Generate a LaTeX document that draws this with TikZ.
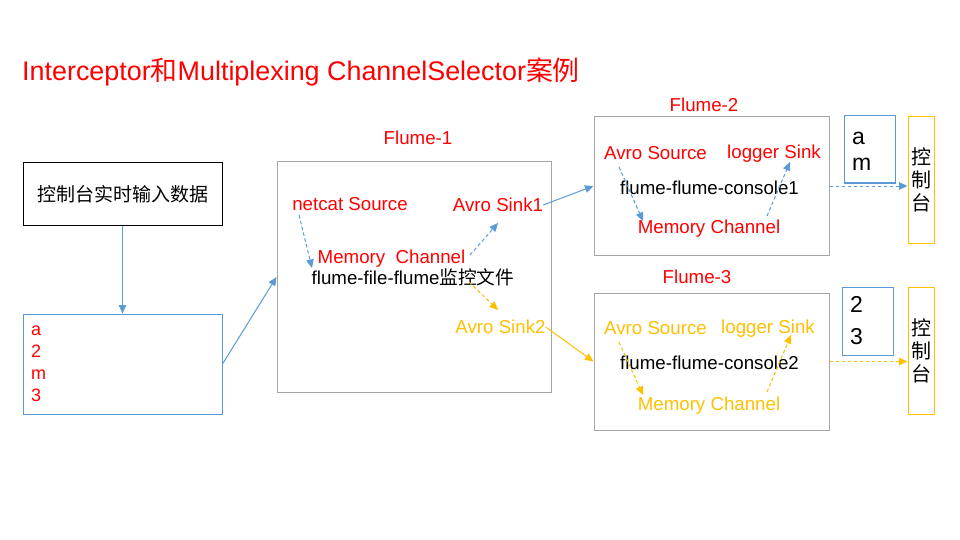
\documentclass[tikz,border=0pt]{standalone}
\usepackage{fontspec}
\setmainfont{Liberation Sans}
\newfontfamily\cjk{Noto Sans CJK SC}
\usetikzlibrary{arrows.meta}
\definecolor{fred}{HTML}{FF0000}
\definecolor{fblue}{HTML}{5B9BD5}
\definecolor{forange}{HTML}{FFC000}
\definecolor{fgray}{HTML}{A6A6A6}
\newcommand{\zh}[1]{{\cjk #1}}
\begin{document}
\begin{tikzpicture}[x=1pt,y=-1pt,
  txt/.style={inner sep=0pt, font=\fontsize{18.7}{22}\selectfont},
  box/.style={draw, line width=1pt, inner sep=0pt},
  tip/.style={-{Triangle[length=8.5pt,width=7.5pt]}},
  solidb/.style={fblue, line width=1pt, tip},
  solido/.style={forange, line width=1pt, tip},
  dashb/.style={fblue, line width=1pt, dash pattern=on 3.5pt off 2.5pt, tip},
  dasho/.style={forange, line width=1pt, dash pattern=on 3.5pt off 2.5pt, tip},
]
\path[use as bounding box, fill=white] (0,0) rectangle (960,540);

% title
\node[txt, anchor=west, text=fred, font=\fontsize{26.9}{32}\selectfont] (title) at (22,72) {Interceptor\zh{和}Multiplexing ChannelSelector\zh{案例}};

% left boxes
\node[box, draw=black, minimum width=199pt, minimum height=62pt] (in) at (122.5,194) {};
\node[txt, font=\fontsize{19}{22}\selectfont] (intext) at (122.5,194) {\zh{控制台实时输入数据}};
\node[box, draw=fblue, minimum width=199pt, minimum height=100pt] (data) at (122.5,364) {};
\node[txt, text=fred, anchor=west, align=left, font=\fontsize{18}{22}\selectfont] (datatext) at (31,364) {a\\2\\m\\3};

% Flume-1
\node[box, draw=fgray, minimum width=274pt, minimum height=230pt] (f1) at (414,277) {};
\node[txt, text=fred] (l1) at (418,138) {Flume-1};
\node[txt, text=fred] (ns) at (350,204) {netcat Source};
\node[txt, text=fred] (mc1) at (391.5,259) {Memory~~Channel};
\node[txt] (ff) at (413,277) {flume-file-flume\zh{监控文件}};
\node[txt, text=fred] (as1) at (498,205) {Avro Sink1};
\node[txt, text=forange] (as2) at (500.5,327) {Avro Sink2};

% Flume-2
\node[box, draw=fgray, minimum width=235pt, minimum height=138pt] (f2) at (711.5,186) {};
\node[txt, text=fred] (l2) at (704,105) {Flume-2};
\node[txt, text=fred] (asrc2) at (655.5,153.5) {Avro Source};
\node[txt, text=fred] (ls2) at (774,153.5) {logger Sink};
\node[txt] (fc1) at (709.5,187.5) {flume-flume-console1};
\node[txt, text=fred] (mc2) at (709,228.5) {Memory Channel};

% Flume-3
\node[box, draw=fgray, minimum width=235pt, minimum height=137pt] (f3) at (711.5,361.5) {};
\node[txt, text=fred] (l3) at (697,277) {Flume-3};
\node[txt, text=forange] (asrc3) at (655.5,328.5) {Avro Source};
\node[txt, text=forange] (ls3) at (768,328.5) {logger Sink};
\node[txt] (fc2) at (709.5,362.5) {flume-flume-console2};
\node[txt, text=forange] (mc3) at (709,405.5) {Memory Channel};

% output boxes
\node[box, draw=fblue, minimum width=51pt, minimum height=67pt] (am) at (869.5,149.5) {};
\node[txt, anchor=west, align=left, font=\fontsize{23}{26}\selectfont] (amtext) at (852,151) {a\\m};
\node[box, draw=fblue, minimum width=51pt, minimum height=68pt] (b23) at (867.5,321) {};
\node[txt, anchor=west, align=left, font=\fontsize{23}{32}\selectfont] (b23text) at (850,320.5) {2\\3};
\node[box, draw=forange, minimum width=26pt, minimum height=126pt] (c1) at (921,180) {};
\node[txt, align=center, font=\fontsize{20}{23}\selectfont] (c1text) at (921,180) {\zh{控}\\\zh{制}\\\zh{台}};
\node[box, draw=forange, minimum width=26pt, minimum height=127pt] (c2) at (921,350.5) {};
\node[txt, align=center, font=\fontsize{20}{23}\selectfont] (c2text) at (921,350.5) {\zh{控}\\\zh{制}\\\zh{台}};

% solid connectors
\draw[solidb] (in.south) -- (data.north);
\draw[solidb] (data.east) -- (f1.west);
\draw[solidb] (as1.east) -- (f2.west);
\draw[solido] (as2.east) -- (f3.west);

% dashed connectors
\coordinate (d1a) at (299,215); \coordinate (d1b) at (312,268);
\coordinate (d2a) at (470,255); \coordinate (d2b) at (498,223);
\coordinate (d3a) at (469,282); \coordinate (d3b) at (498,310);
\coordinate (d4a) at (619,167); \coordinate (d4b) at (643,221);
\coordinate (d5a) at (767,216); \coordinate (d5b) at (790,162);
\coordinate (d6a) at (619,342); \coordinate (d6b) at (643,395);
\coordinate (d7a) at (767,392); \coordinate (d7b) at (791,335);
\draw[dashb] (d1a) -- (d1b);
\draw[dashb] (d2a) -- (d2b);
\draw[dasho] (d3a) -- (d3b);
\draw[dashb] (d4a) -- (d4b);
\draw[dashb] (d5a) -- (d5b);
\draw[dasho] (d6a) -- (d6b);
\draw[dasho] (d7a) -- (d7b);
\draw[dashb] (f2.east) -- (f2.east -| c1.west);
\draw[dasho] (f3.east) -- (f3.east -| c2.west);
\end{tikzpicture}
\end{document}
